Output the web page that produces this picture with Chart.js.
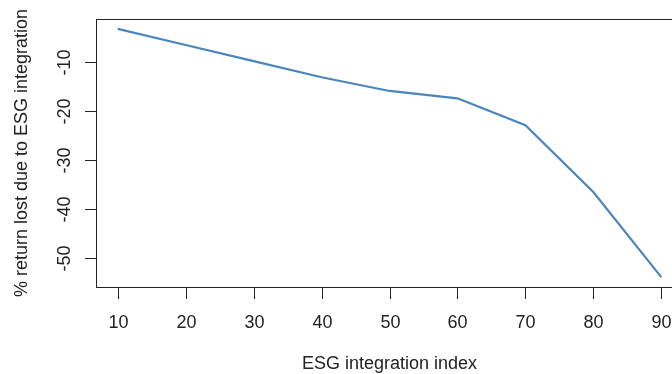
<!DOCTYPE html>
<html>
<head>
<meta charset="utf-8">
<script src="https://cdn.jsdelivr.net/npm/chart.js@4/dist/chart.umd.min.js"></script>
<style>
  html, body { margin: 0; padding: 0; background: #fff; overflow: hidden; }
  #wrap { width: 700px; height: 374px; }
</style>
</head>
<body>
<div id="wrap"><canvas id="esg-chart"></canvas></div>
<script>
// Valeurs
const esgIndex = [10, 20, 30, 40, 50, 60, 70, 80, 90];
const returnLost = [-3.2, -6.5, -9.8, -13.1, -15.9, -17.4, -22.9, -36.6, -54.0];
const xTicks = [10, 20, 30, 40, 50, 60, 70, 80, 90];
const yTicks = [-10, -20, -30, -40, -50];
const xTitle = 'ESG integration index';
const yTitle = '% return lost due to ESG integration';

const FONT = '"Liberation Sans", Arial, sans-serif';
const INK = '#222';

// Axes style R : boîte, graduations vers l'extérieur, libellés verticaux à gauche
const rAxes = {
    id: 'rAxes',
    afterDraw(chart) {
        const ctx = chart.ctx;
        const area = chart.chartArea;
        const xs = chart.scales.x;
        const ys = chart.scales.y;
        ctx.save();
        ctx.strokeStyle = INK;
        ctx.lineWidth = 1;
        ctx.strokeRect(Math.round(area.left) + 0.5, Math.round(area.top) + 0.5,
            Math.round(area.right - area.left), Math.round(area.bottom - area.top));

        ctx.fillStyle = INK;
        ctx.font = '18px ' + FONT;
        ctx.textAlign = 'center';
        ctx.textBaseline = 'alphabetic';

        // axe x
        xTicks.forEach(v => {
            const px = Math.round(xs.getPixelForValue(v)) + 0.5;
            ctx.beginPath();
            ctx.moveTo(px, area.bottom);
            ctx.lineTo(px, area.bottom + 12);
            ctx.stroke();
            ctx.fillText(String(v), px, 328);
        });

        // axe y
        yTicks.forEach(v => {
            const py = Math.round(ys.getPixelForValue(v)) + 0.5;
            ctx.beginPath();
            ctx.moveTo(area.left, py);
            ctx.lineTo(area.left - 11, py);
            ctx.stroke();
            ctx.save();
            ctx.translate(70, py);
            ctx.rotate(-Math.PI / 2);
            ctx.fillText(String(v), 0, 0);
            ctx.restore();
        });

        // titres
        ctx.fillText(xTitle, (area.left + area.right) / 2, 369);
        ctx.save();
        ctx.translate(27, (area.top + area.bottom) / 2);
        ctx.rotate(-Math.PI / 2);
        ctx.fillText(yTitle, 0, 0);
        ctx.restore();
        ctx.restore();
    }
};

const chartCtx = document.getElementById('esg-chart').getContext('2d');
const chart = new Chart(chartCtx, {
    type: 'line',
    data: {
        datasets: [{
            data: esgIndex.map((x, i) => ({ x: x, y: returnLost[i] })),
            borderColor: '#4a85bd',
            borderWidth: 2.2,
            pointRadius: 0,
            tension: 0,
            fill: false
        }]
    },
    options: {
        responsive: true,
        maintainAspectRatio: false,
        animation: false,
        layout: {
            padding: { left: 96, top: 19, right: 17, bottom: 87 }
        },
        scales: {
            x: { type: 'linear', min: 6.8, max: 93.2, display: false },
            y: { type: 'linear', min: -56.03, max: -1.17, display: false }
        },
        plugins: {
            legend: { display: false },
            tooltip: { enabled: false }
        }
    },
    plugins: [rAxes]
});
</script>
</body>
</html>
